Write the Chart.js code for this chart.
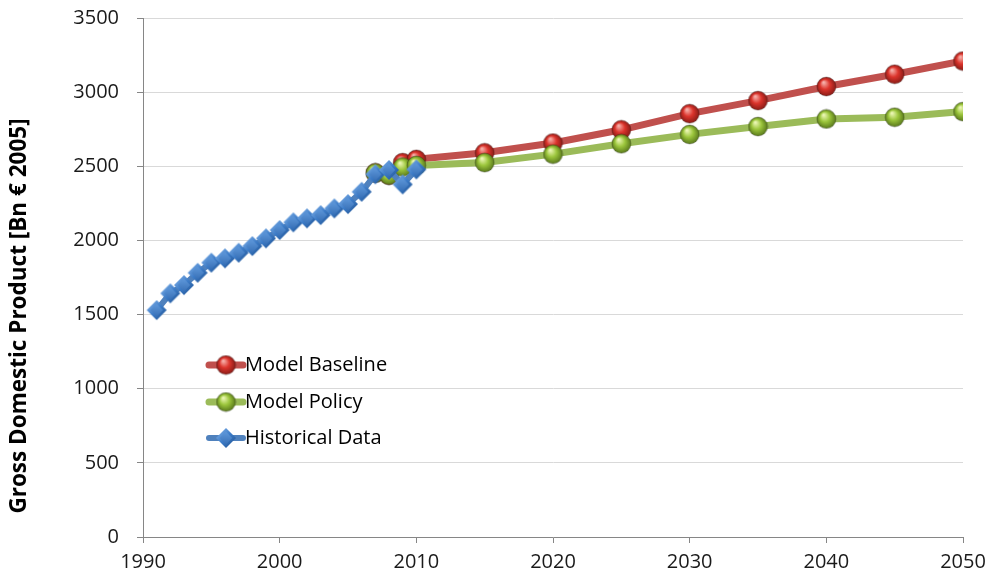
<!DOCTYPE html>
<html>
<head>
<meta charset="utf-8">
<script src="https://cdn.jsdelivr.net/npm/chart.js@4.4.1/dist/chart.umd.min.js"></script>
<style>
  html, body { margin: 0; padding: 0; background: #fff; }
  #wrap { width: 990px; height: 581px; }
</style>
</head>
<body>
<div id="wrap"><canvas id="chart" width="990" height="581"></canvas></div>
<script>
// values
const histYears = [1991, 1992, 1993, 1994, 1995, 1996, 1997, 1998, 1999, 2000,
                   2001, 2002, 2003, 2004, 2005, 2006, 2007, 2008, 2009, 2010];
const histValues = [1530, 1643, 1699, 1782, 1850, 1879, 1917, 1962, 2014, 2070,
                    2122, 2149, 2171, 2216, 2245, 2328, 2446, 2475, 2378, 2479];
const modelYears = [2007, 2008, 2009, 2010, 2015, 2020, 2025, 2030, 2035, 2040, 2045, 2050];
const baselineValues = [2455, 2440, 2525, 2547, 2591, 2657, 2746, 2855, 2943, 3038, 3121, 3210];
const policyValues = [2455, 2440, 2495, 2506, 2525, 2582, 2652, 2715, 2768, 2819, 2831, 2869];
const yearTicks = [1990, 2000, 2010, 2020, 2030, 2040, 2050];
const seriesNames = ["Model Baseline", "Model Policy", "Historical Data"];
const yTitle = "Gross Domestic Product [Bn \u20ac 2005]";

const FONT = "'Open Sans', 'Liberation Sans', sans-serif";
const RED = "#c0504d";
const GREEN = "#9bbb59";
const BLUE = "#4f81bd";

function toPoints(xs, ys) {
    return xs.map((x, i) => ({ x: x, y: ys[i] }));
}

// shaded ball marker, like the office 3d markers
function makeSphere(light, base, dark, r) {
    const size = 2 * r + 2;
    const c = document.createElement("canvas");
    c.width = size;
    c.height = size;
    const ctx = c.getContext("2d");
    const cx = size / 2, cy = size / 2;
    const g = ctx.createRadialGradient(cx - r * 0.3, cy - r * 0.45, r * 0.05, cx, cy, r);
    g.addColorStop(0, light);
    g.addColorStop(0.5, base);
    g.addColorStop(1, dark);
    ctx.beginPath();
    ctx.arc(cx, cy, r, 0, Math.PI * 2);
    ctx.fillStyle = g;
    ctx.fill();
    ctx.lineWidth = 1;
    ctx.strokeStyle = "rgba(0,0,0,0.25)";
    ctx.stroke();
    return c;
}

function makeDiamond(r) {
    const size = 2 * r + 2;
    const c = document.createElement("canvas");
    c.width = size;
    c.height = size;
    const ctx = c.getContext("2d");
    const cx = size / 2, cy = size / 2;
    const path = (k) => {
        ctx.beginPath();
        ctx.moveTo(cx, cy - r * k);
        ctx.lineTo(cx + r * k, cy);
        ctx.lineTo(cx, cy + r * k);
        ctx.lineTo(cx - r * k, cy);
        ctx.closePath();
    };
    let g = ctx.createLinearGradient(cx - r, cy - r, cx + r, cy + r);
    g.addColorStop(0, "#8ab8ec");
    g.addColorStop(0.5, "#3d7cc8");
    g.addColorStop(1, "#1f4f8c");
    path(1);
    ctx.fillStyle = g;
    ctx.fill();
    g = ctx.createLinearGradient(cx, cy - r * 0.6, cx, cy + r * 0.6);
    g.addColorStop(0, "#5d97da");
    g.addColorStop(1, "#3a72b8");
    path(0.62);
    ctx.fillStyle = g;
    ctx.fill();
    return c;
}

const redBall = makeSphere("#f7b4ae", "#dc342c", "#8a1c17", 9.5);
const greenBall = makeSphere("#eef8b8", "#9cc63c", "#5a7a1c", 9.5);
const blueDiamond = makeDiamond(10);

const legendColors = [RED, GREEN, BLUE];
const legendMarkers = [redBall, greenBall, blueDiamond];

// legend sits inside the plot, drawn like the office legend (line + marker)
const insideLegend = {
    id: "insideLegend",
    afterDraw(chart) {
        const ctx = chart.ctx;
        const area = chart.chartArea;
        const x0 = area.left + 66;
        const rows = [365, 402, 438];
        ctx.save();
        seriesNames.forEach((name, i) => {
            const y = rows[i];
            ctx.beginPath();
            ctx.moveTo(x0, y);
            ctx.lineTo(x0 + 34, y);
            ctx.lineWidth = i === 2 ? 6 : 7;
            ctx.lineCap = "round";
            ctx.strokeStyle = legendColors[i];
            ctx.stroke();
            const m = legendMarkers[i];
            ctx.drawImage(m, x0 + 17 - m.width / 2, y - m.height / 2);
            ctx.fillStyle = "#000";
            ctx.font = "20px " + FONT;
            ctx.textAlign = "left";
            ctx.textBaseline = "middle";
            ctx.fillText(name, x0 + 36, y);
        });
        ctx.restore();
    },
};

const axisTitle = {
    id: "axisTitle",
    afterDraw(chart) {
        const ctx = chart.ctx;
        ctx.save();
        ctx.translate(20, 316);
        ctx.rotate(-Math.PI / 2);
        ctx.font = "bold 22.5px " + FONT;
        ctx.fillStyle = "#000";
        ctx.textAlign = "center";
        ctx.textBaseline = "middle";
        ctx.fillText(yTitle, 0, 0);
        ctx.restore();
    },
};

const config = {
    type: "line",
    data: {
        datasets: [
            {
                label: seriesNames[0],
                data: toPoints(modelYears, baselineValues),
                borderColor: RED,
                borderWidth: 7,
                pointStyle: redBall,
                order: 3,
            },
            {
                label: seriesNames[1],
                data: toPoints(modelYears, policyValues),
                borderColor: GREEN,
                borderWidth: 7,
                pointStyle: greenBall,
                order: 2,
            },
            {
                label: seriesNames[2],
                data: toPoints(histYears, histValues),
                borderColor: BLUE,
                borderWidth: 6,
                pointStyle: blueDiamond,
                order: 1,
            },
        ],
    },
    options: {
        responsive: false,
        animation: false,
        events: [],
        layout: { padding: { top: 18, right: 27, left: 0, bottom: 0 } },
        elements: {
            line: { tension: 0, borderJoinStyle: "round", borderCapStyle: "round" },
        },
        plugins: {
            legend: { display: false },
            tooltip: { enabled: false },
        },
        scales: {
            x: {
                type: "linear",
                min: yearTicks[0],
                max: yearTicks[yearTicks.length - 1],
                afterBuildTicks(scale) {
                    scale.ticks = yearTicks.map((v) => ({ value: v }));
                },
                afterFit(scale) {
                    scale.height = 44;
                    scale.paddingLeft = 0;
                    scale.paddingRight = 0;
                },
                grid: {
                    drawOnChartArea: false,
                    tickLength: 6,
                    tickColor: "#868686",
                },
                border: { color: "#868686", width: 1 },
                ticks: {
                    padding: 7,
                    color: "#1a1a1a",
                    font: { family: FONT, size: 20 },
                    callback: (v) => String(v),
                },
            },
            y: {
                min: 0,
                max: 3500,
                afterFit(scale) {
                    scale.width = 143;
                    scale.paddingTop = 0;
                    scale.paddingBottom = 0;
                },
                grid: {
                    color: "#d9d9d9",
                    tickLength: 6,
                    tickColor: "#868686",
                },
                border: { color: "#868686", width: 1 },
                ticks: {
                    stepSize: 500,
                    padding: 18,
                    color: "#1a1a1a",
                    font: { family: FONT, size: 20 },
                    callback: (v) => String(v),
                },
            },
        },
    },
    plugins: [insideLegend, axisTitle],
};

new Chart(document.getElementById("chart"), config);
</script>
</body>
</html>
